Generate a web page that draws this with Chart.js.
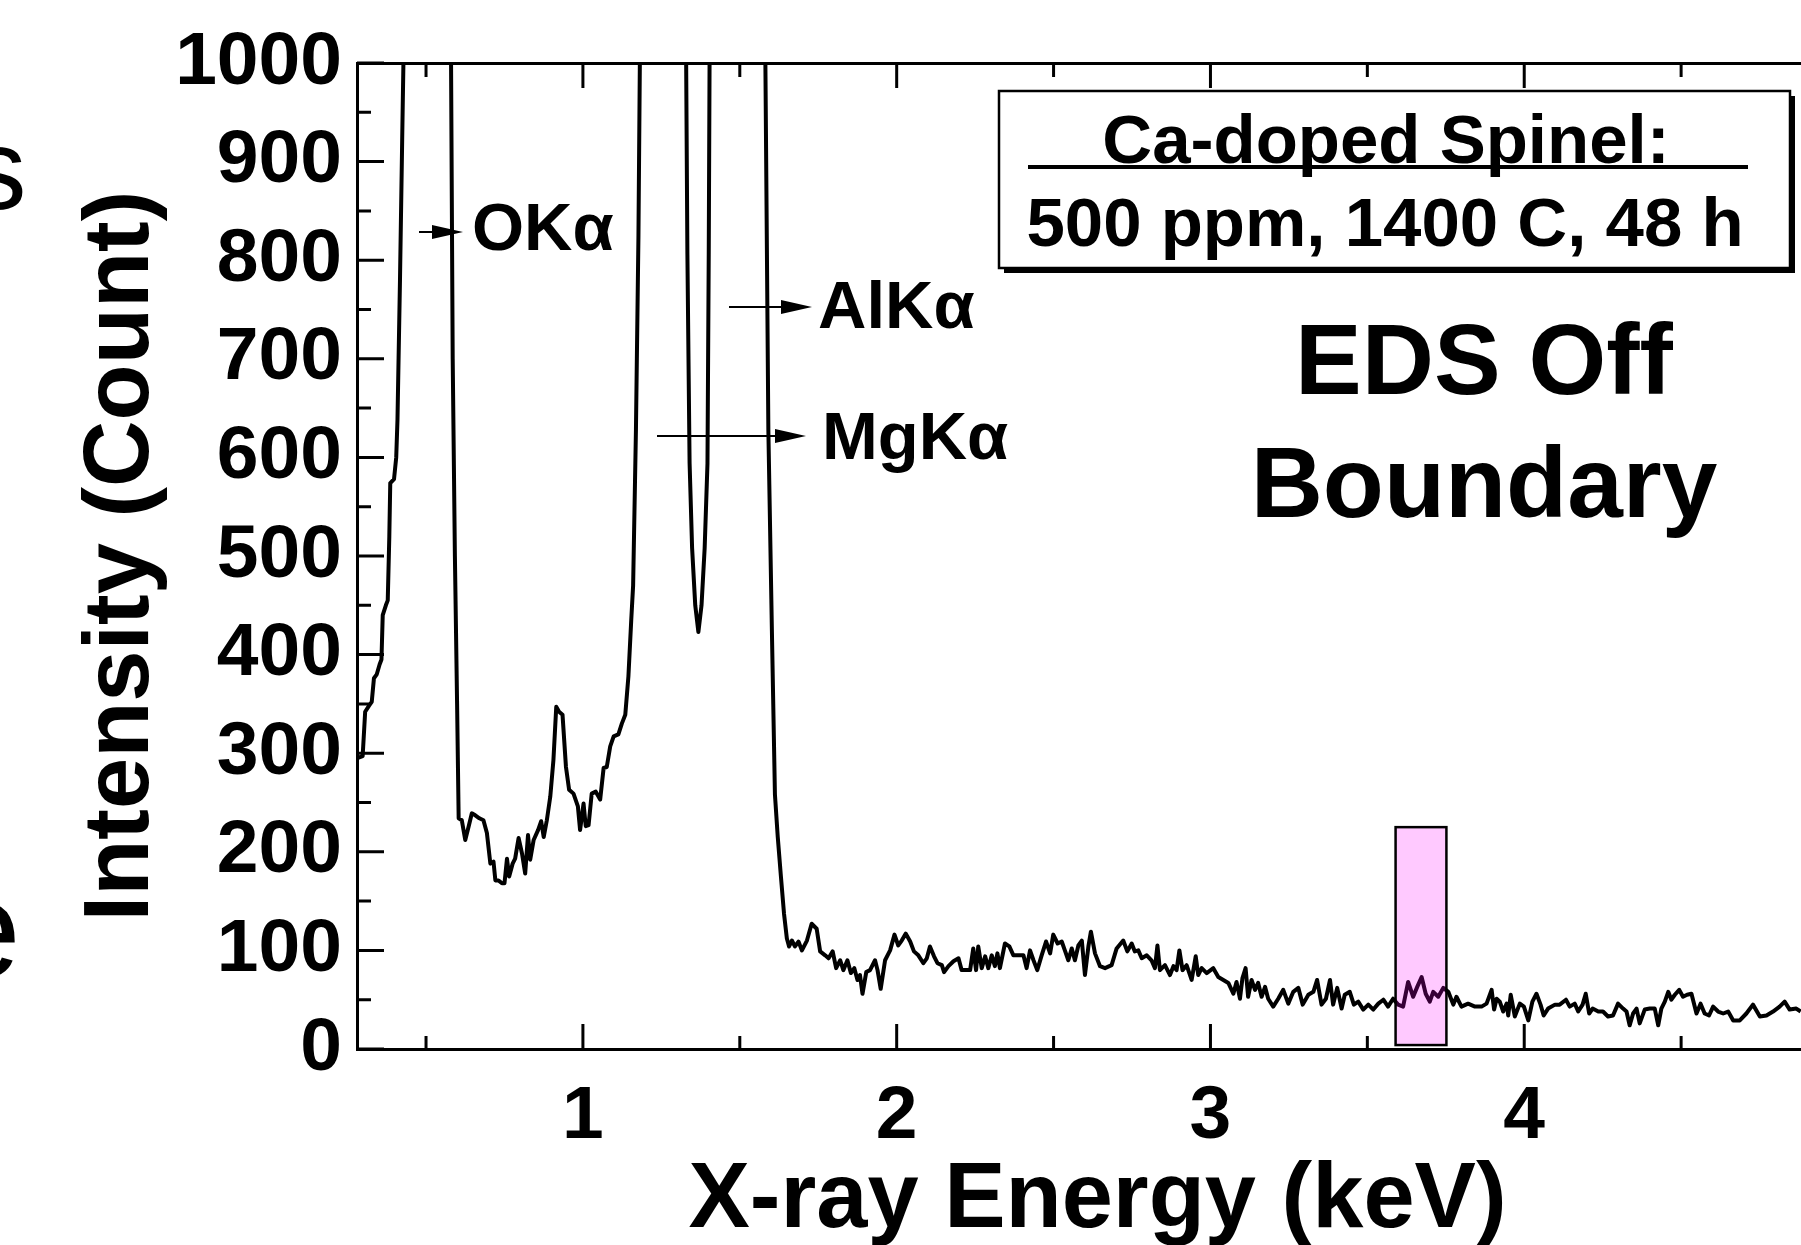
<!DOCTYPE html>
<html>
<head>
<meta charset="utf-8">
<title>EDS Off Boundary</title>
<script src="https://cdn.jsdelivr.net/npm/chart.js@4.4.1/dist/chart.umd.min.js"></script>
<style>
  html, body { margin: 0; padding: 0; background: #fff; overflow: hidden; }
  #wrap { position: relative; width: 1860px; height: 1245px; }
</style>
</head>
<body>
<div id="wrap"><canvas id="eds" width="1860" height="1245"></canvas></div>
<script>
/* EDS spectrum, Ca-doped spinel, off the grain boundary. */

// ---- Data ----
const energyKeV = [
  0.281, 0.298, 0.306, 0.318, 0.327, 0.334, 0.343, 0.352, 0.358, 0.362,
  0.372, 0.378, 0.383, 0.386, 0.398, 0.405, 0.409, 0.417, 0.424, 0.433,
  0.525, 0.578, 0.585, 0.592, 0.599, 0.604, 0.614, 0.625, 0.636, 0.646,
  0.657, 0.670, 0.683, 0.694, 0.705, 0.715, 0.721, 0.731, 0.742, 0.750,
  0.758, 0.765, 0.776, 0.784, 0.795, 0.806, 0.816, 0.825, 0.832, 0.843,
  0.857, 0.867, 0.875, 0.885, 0.896, 0.906, 0.915, 0.924, 0.935, 0.946,
  0.956, 0.970, 0.984, 0.991, 1.002, 1.009, 1.018, 1.028, 1.041, 1.055,
  1.066, 1.076, 1.087, 1.098, 1.113, 1.124, 1.135, 1.145, 1.154, 1.160,
  1.169, 1.177, 1.184, 1.254, 1.327, 1.333, 1.340, 1.348, 1.358, 1.368,
  1.378, 1.388, 1.397, 1.401, 1.405, 1.487, 1.579, 1.591, 1.602, 1.612,
  1.621, 1.631, 1.641, 1.650, 1.657, 1.666, 1.676, 1.687, 1.698, 1.714,
  1.729, 1.745, 1.756, 1.772, 1.783, 1.796, 1.807, 1.820, 1.830, 1.843,
  1.854, 1.865, 1.875, 1.883, 1.891, 1.903, 1.915, 1.931, 1.939, 1.949,
  1.963, 1.979, 1.993, 2.005, 2.016, 2.029, 2.043, 2.055, 2.069, 2.085,
  2.096, 2.106, 2.119, 2.130, 2.144, 2.151, 2.165, 2.181, 2.197, 2.207,
  2.223, 2.234, 2.244, 2.253, 2.260, 2.271, 2.282, 2.292, 2.303, 2.313,
  2.321, 2.329, 2.345, 2.359, 2.372, 2.388, 2.404, 2.414, 2.425, 2.436,
  2.448, 2.462, 2.476, 2.489, 2.499, 2.513, 2.526, 2.536, 2.547, 2.558,
  2.568, 2.579, 2.590, 2.600, 2.611, 2.619, 2.632, 2.648, 2.664, 2.685,
  2.701, 2.722, 2.735, 2.749, 2.759, 2.770, 2.781, 2.797, 2.812, 2.823,
  2.831, 2.839, 2.855, 2.871, 2.882, 2.892, 2.901, 2.911, 2.924, 2.940,
  2.953, 2.961, 2.972, 2.988, 3.009, 3.025, 3.041, 3.057, 3.073, 3.083,
  3.094, 3.102, 3.112, 3.120, 3.131, 3.142, 3.152, 3.163, 3.174, 3.184,
  3.200, 3.216, 3.232, 3.248, 3.264, 3.280, 3.294, 3.312, 3.328, 3.340,
  3.354, 3.368, 3.381, 3.391, 3.404, 3.418, 3.428, 3.444, 3.457, 3.471,
  3.487, 3.503, 3.519, 3.535, 3.551, 3.566, 3.582, 3.598, 3.614, 3.630,
  3.646, 3.659, 3.673, 3.686, 3.699, 3.710, 3.726, 3.742, 3.758, 3.774,
  3.784, 3.800, 3.821, 3.843, 3.864, 3.880, 3.896, 3.904, 3.912, 3.922,
  3.933, 3.944, 3.949, 3.957, 3.970, 3.986, 3.999, 4.013, 4.026, 4.039,
  4.052, 4.062, 4.076, 4.098, 4.113, 4.133, 4.145, 4.161, 4.172, 4.186,
  4.196, 4.207, 4.218, 4.236, 4.251, 4.267, 4.283, 4.299, 4.315, 4.326,
  4.336, 4.347, 4.358, 4.368, 4.384, 4.400, 4.416, 4.427, 4.437, 4.448,
  4.459, 4.469, 4.480, 4.494, 4.506, 4.519, 4.533, 4.549, 4.562, 4.575,
  4.589, 4.602, 4.618, 4.634, 4.650, 4.666, 4.687, 4.708, 4.729, 4.751,
  4.772, 4.793, 4.814, 4.830, 4.846, 4.867, 4.881
];
const counts = [
  295, 297, 342, 348, 352, 376, 380, 390, 395, 440,
  450, 455, 520, 574, 578, 600, 638, 780, 922, 1100,
  5200, 1100, 700, 500, 350, 234, 232, 212, 226, 239,
  237, 234, 232, 219, 188, 190, 171, 171, 168, 168,
  193, 175, 188, 193, 214, 198, 178, 217, 192, 212,
  222, 231, 215, 232, 256, 293, 347, 342, 339, 286,
  263, 259, 246, 222, 249, 226, 227, 259, 261, 253,
  285, 286, 307, 317, 319, 330, 339, 378, 435, 470,
  628, 825, 1100, 4300, 1100, 806, 594, 508, 450, 423,
  450, 508, 594, 806, 1100, 7500, 1100, 628, 429, 258,
  215, 175, 137, 112, 104, 110, 104, 109, 100, 110,
  127, 122, 99, 95, 92, 99, 82, 90, 80, 90,
  77, 82, 70, 75, 56, 78, 80, 90, 80, 61,
  90, 100, 116, 105, 110, 117, 109, 99, 95, 87,
  92, 104, 94, 87, 85, 78, 84, 89, 92, 80,
  80, 80, 102, 80, 104, 82, 94, 82, 95, 84,
  97, 82, 107, 104, 95, 95, 95, 82, 100, 90,
  80, 95, 109, 97, 116, 107, 109, 100, 90, 102,
  90, 105, 110, 75, 104, 119, 97, 84, 82, 85,
  102, 110, 99, 107, 99, 100, 92, 95, 90, 82,
  105, 80, 85, 75, 84, 80, 100, 80, 85, 70,
  94, 75, 82, 77, 82, 73, 70, 67, 56, 68,
  51, 72, 82, 53, 70, 60, 67, 53, 63, 51,
  43, 51, 60, 46, 58, 62, 45, 55, 58, 70,
  45, 51, 70, 45, 62, 41, 55, 58, 45, 48,
  40, 45, 40, 46, 50, 43, 51, 45, 43, 68,
  53, 63, 73, 56, 48, 58, 53, 62, 58, 45,
  53, 43, 46, 43, 43, 46, 60, 40, 51, 48,
  38, 46, 34, 55, 33, 46, 43, 29, 48, 56,
  45, 34, 41, 45, 45, 50, 43, 46, 38, 45,
  56, 36, 41, 38, 38, 33, 34, 46, 41, 38,
  24, 36, 41, 26, 40, 41, 41, 24, 41, 48,
  58, 50, 55, 60, 53, 55, 56, 36, 46, 36,
  34, 43, 38, 36, 38, 29, 29, 36, 45, 33,
  34, 38, 43, 48, 40, 41, 38
];

// highlighted window (Ca K-alpha region)
const highlightKeV = [3.59, 3.752];
const highlightCounts = [4, 225];

// axis ticks
const xTickValues = [1, 2, 3, 4];
const xMinorTicks = [0.5, 1.5, 2.5, 3.5, 4.5];
const yTickValues = [0, 100, 200, 300, 400, 500, 600, 700, 800, 900, 1000];
const yMinorTicks = [50, 150, 250, 350, 450, 550, 650, 750, 850, 950];

const FONT = "'Liberation Sans', Arial, Helvetica, sans-serif";
Chart.defaults.font.family = FONT;
Chart.defaults.color = '#000';

// ---- Inward tick marks on the left, bottom and top axes ----
const tickMarks = {
  id: 'tickMarks',
  afterDraw(chart) {
    const { ctx, chartArea: a, scales: { x, y } } = chart;
    ctx.save();
    ctx.strokeStyle = '#000';
    ctx.lineWidth = 3;
    ctx.beginPath();
    yTickValues.forEach(v => {
      const py = y.getPixelForValue(v);
      ctx.moveTo(a.left, py); ctx.lineTo(a.left + 27, py);
    });
    yMinorTicks.forEach(v => {
      const py = y.getPixelForValue(v);
      ctx.moveTo(a.left, py); ctx.lineTo(a.left + 14, py);
    });
    xTickValues.forEach(v => {
      const px = x.getPixelForValue(v);
      ctx.moveTo(px, a.bottom); ctx.lineTo(px, a.bottom - 25);
      ctx.moveTo(px, a.top); ctx.lineTo(px, a.top + 25);
    });
    xMinorTicks.forEach(v => {
      const px = x.getPixelForValue(v);
      ctx.moveTo(px, a.bottom); ctx.lineTo(px, a.bottom - 13);
      ctx.moveTo(px, a.top); ctx.lineTo(px, a.top + 14);
    });
    ctx.stroke();
    ctx.restore();
  }
};

// ---- Highlight window, peak labels, legend box ----
function arrow(ctx, x1, x2, yy, lw) {
  ctx.lineWidth = lw;
  ctx.beginPath();
  ctx.moveTo(x1, yy); ctx.lineTo(x2 - 20, yy);
  ctx.stroke();
  ctx.beginPath();
  ctx.moveTo(x2, yy); ctx.lineTo(x2 - 31, yy - 7); ctx.lineTo(x2 - 31, yy + 7);
  ctx.closePath();
  ctx.fill();
}

const annotations = {
  id: 'annotations',
  afterDraw(chart) {
    const { ctx, scales: { x, y } } = chart;
    ctx.save();

    // pink window over the spectrum
    const bx0 = x.getPixelForValue(highlightKeV[0]);
    const bx1 = x.getPixelForValue(highlightKeV[1]);
    const by0 = y.getPixelForValue(highlightCounts[1]);
    const by1 = y.getPixelForValue(highlightCounts[0]);
    ctx.fillStyle = 'rgba(255,0,255,0.21)';
    ctx.fillRect(bx0, by0, bx1 - bx0, by1 - by0);
    ctx.strokeStyle = '#000';
    ctx.lineWidth = 2.5;
    ctx.strokeRect(bx0, by0, bx1 - bx0, by1 - by0);

    // peak labels with arrows
    ctx.fillStyle = '#000';
    ctx.strokeStyle = '#000';
    arrow(ctx, 419, 463, 232, 2);
    arrow(ctx, 729, 812, 307, 1.8);
    arrow(ctx, 657, 806, 436, 1.8);
    ctx.font = 'bold 67px ' + FONT;
    ctx.textAlign = 'left';
    ctx.textBaseline = 'alphabetic';
    ctx.fillText('OK\u03B1', 472, 250);
    ctx.fillText('AlK\u03B1', 818, 328);
    ctx.fillText('MgK\u03B1', 822, 459);

    // sample box with shadow
    ctx.fillStyle = '#000';
    ctx.fillRect(1004, 96, 791, 177);
    ctx.fillStyle = '#fff';
    ctx.fillRect(999, 91, 791, 177);
    ctx.lineWidth = 2.5;
    ctx.strokeRect(999, 91, 791, 177);
    ctx.fillStyle = '#000';
    ctx.font = 'bold 69px ' + FONT;
    ctx.textAlign = 'center';
    ctx.fillText('Ca-doped Spinel:', 1386, 163);
    ctx.fillRect(1028, 165, 720, 4);
    ctx.fillText('500 ppm, 1400 C, 48 h', 1385, 246);

    // panel title
    ctx.font = 'bold 100px ' + FONT;
    ctx.fillText('EDS Off', 1484, 394);
    ctx.fillText('Boundary', 1484, 517);

    // letters of the neighbouring panel, cut by the frame
    ctx.textAlign = 'left';
    ctx.font = '115px ' + FONT;
    ctx.fillText('s', -31, 209);
    ctx.font = '140px ' + FONT;
    ctx.fillText('e', -57, 977);
    ctx.restore();
  }
};

// ---- Chart ----
const points = energyKeV.map((e, i) => ({ x: e, y: counts[i] }));

new Chart(document.getElementById('eds'), {
  type: 'scatter',
  data: {
    datasets: [{
      data: points,
      showLine: true,
      borderColor: '#000',
      borderWidth: 4,
      pointRadius: 0,
      tension: 0,
      borderJoinStyle: 'round'
    }]
  },
  options: {
    responsive: false,
    animation: false,
    devicePixelRatio: 1,
    layout: { padding: { top: 63, right: 22, left: 0, bottom: 0 } },
    plugins: { legend: { display: false }, tooltip: { enabled: false } },
    scales: {
      x: {
        type: 'linear',
        position: 'bottom',
        min: 0.28,
        max: 5,
        afterBuildTicks: s => { s.ticks = xTickValues.map(v => ({ value: v })); },
        afterFit: s => { s.height = 196; },
        grid: { display: false, drawTicks: false },
        border: { display: true, color: '#000', width: 3 },
        ticks: { font: { size: 75, weight: 'bold' }, padding: 23, maxRotation: 0, color: '#000',
                 callback: v => String(v) },
        title: {
          display: true,
          text: 'X-ray Energy (keV)',
          font: { size: 92, weight: 'bold', lineHeight: 0.9 },
          padding: { top: 0, bottom: 2 },
          color: '#000'
        }
      },
      x2: {
        type: 'linear',
        position: 'top',
        min: 0.28,
        max: 5,
        afterFit: s => { s.height = 0; },
        grid: { display: false, drawTicks: false },
        border: { display: true, color: '#000', width: 3 },
        ticks: { display: false }
      },
      y: {
        type: 'linear',
        min: 0,
        max: 1000,
        afterBuildTicks: s => { s.ticks = yTickValues.map(v => ({ value: v })); },
        afterFit: s => { s.width = 357; },
        grid: { display: false, drawTicks: false },
        border: { display: true, color: '#000', width: 3 },
        ticks: { font: { size: 75, weight: 'bold', lineHeight: 0.5 }, padding: 15, color: '#000',
                 callback: v => String(v) },
        title: {
          display: true,
          text: 'Intensity (Count)',
          font: { size: 92, weight: 'bold' },
          padding: { top: 67, bottom: 0 },
          color: '#000'
        }
      }
    }
  },
  plugins: [tickMarks, annotations]
});
</script>
</body>
</html>
